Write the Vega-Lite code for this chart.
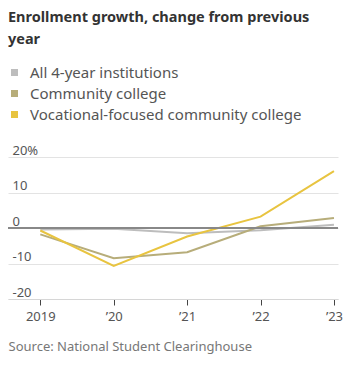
{
  "$schema": "https://vega.github.io/schema/vega-lite/v6.json",
  "width": 330,
  "height": 142,
  "autosize": {"type": "none"},
  "padding": {"left": 8, "top": 157, "right": 13, "bottom": 69},
  "background": "white",
  "config": {
    "view": {"stroke": null},
    "font": "Noto Sans",
    "axisY": {"labelOverlap": false}
  },
  "title": {
    "text": ["Enrollment growth, change from previous", "year"],
    "anchor": "start",
    "frame": "group",
    "orient": "top",
    "offset": 18,
    "fontSize": 14.5,
    "fontWeight": "bold",
    "color": "#333333",
    "lineHeight": 22,
    "font": "Noto Sans"
  },
  "data": {
    "values": [
      {"year": 2019, "series": "All 4-year institutions", "value": -0.4},
      {"year": 2020, "series": "All 4-year institutions", "value": -0.2},
      {"year": 2021, "series": "All 4-year institutions", "value": -1.5},
      {"year": 2022, "series": "All 4-year institutions", "value": -0.6},
      {"year": 2023, "series": "All 4-year institutions", "value": 0.9},
      {"year": 2019, "series": "Community college", "value": -1.8},
      {"year": 2020, "series": "Community college", "value": -8.5},
      {"year": 2021, "series": "Community college", "value": -6.8},
      {"year": 2022, "series": "Community college", "value": 0.5},
      {"year": 2023, "series": "Community college", "value": 2.8},
      {"year": 2019, "series": "Vocational-focused community college", "value": -0.7},
      {"year": 2020, "series": "Vocational-focused community college", "value": -10.7},
      {"year": 2021, "series": "Vocational-focused community college", "value": -2.4},
      {"year": 2022, "series": "Vocational-focused community college", "value": 3.2},
      {"year": 2023, "series": "Vocational-focused community college", "value": 16.0}
    ]
  },
  "layer": [
    {
      "mark": {"type": "line", "strokeWidth": 2, "interpolate": "linear"},
      "encoding": {
        "x": {
          "field": "year",
          "type": "quantitative",
          "scale": {"domain": [2018.56, 2023.055], "nice": false, "zero": false},
          "axis": {
            "values": [2019, 2020, 2021, 2022, 2023],
            "labelExpr": "datum.value == 2019 ? '2019' : '’' + substring(toString(datum.value), 2, 4)",
            "grid": false,
            "domain": true,
            "domainColor": "#d6d6d6",
            "domainWidth": 1,
            "ticks": true,
            "tickColor": "#444444",
            "tickSize": 6,
            "labelFontSize": 13,
            "labelColor": "#555555",
            "labelPadding": 5,
            "labelFont": "Noto Sans",
            "title": "Source: National Student Clearinghouse",
            "titleFont": "Noto Sans",
            "titleFontSize": 13,
            "titleFontWeight": "normal",
            "titleColor": "#777777",
            "titleAnchor": "start",
            "titleAlign": "left",
            "titleX": 0,
            "titleY": 51,
            "titleBaseline": "alphabetic"
          }
        },
        "y": {
          "field": "value",
          "type": "quantitative",
          "scale": {"domain": [-20, 20], "nice": false},
          "axis": {
            "values": [-20, -10, 0, 10, 20],
            "tickCount": 5,
            "labelExpr": "datum.value == 20 ? '20%' : (datum.value < 0 ? '-' + abs(datum.value) : '' + datum.value)",
            "labelOverlap": false,
            "domain": false,
            "ticks": false,
            "grid": true,
            "gridColor": "#e3e3e3",
            "gridWidth": 1,
            "labelAlign": "left",
            "labelBaseline": "alphabetic",
            "labelPadding": -4,
            "labelOffset": -3,
            "labelFontSize": 13,
            "labelColor": "#555555",
            "labelFont": "Noto Sans",
            "title": null
          }
        },
        "color": {
          "field": "series",
          "type": "nominal",
          "sort": ["All 4-year institutions", "Community college", "Vocational-focused community college"],
          "scale": {
            "domain": ["All 4-year institutions", "Community college", "Vocational-focused community college"],
            "range": ["#bdbdbd", "#b7ad7a", "#e8c440"]
          },
          "legend": {
            "orient": "none",
            "legendX": -1,
            "legendY": -92,
            "direction": "vertical",
            "title": null,
            "symbolType": "square",
            "symbolSize": 49,
            "labelFontSize": 15,
            "labelColor": "#555555",
            "labelFont": "Noto Sans",
            "labelOffset": 8,
            "labelLimit": 400,
            "rowPadding": 5,
            "encode": {
              "symbols": {
                "update": {
                  "fill": {"scale": "color", "field": "value"},
                  "fillOpacity": {"value": 1},
                  "strokeWidth": {"value": 0}
                }
              }
            }
          }
        }
      }
    },
    {
      "mark": {"type": "rule", "color": "#888888", "strokeWidth": 1.6},
      "encoding": {"y": {"datum": 0, "type": "quantitative"}}
    }
  ]
}
